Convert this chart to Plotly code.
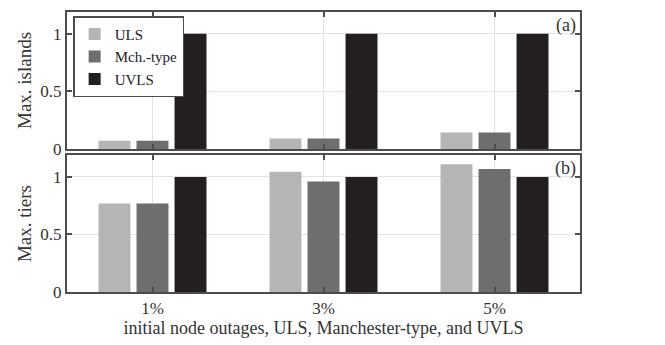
import plotly.graph_objects as go
from plotly.subplots import make_subplots

categories = ["1%", "3%", "5%"]
series_names = ["ULS", "Mch.-type", "UVLS"]
islands_uls = [0.071, 0.091, 0.143]
islands_mch = [0.071, 0.091, 0.143]
islands_uvls = [1.0, 1.0, 1.0]
tiers_uls = [0.77, 1.045, 1.11]
tiers_mch = [0.77, 0.96, 1.068]
tiers_uvls = [1.0, 1.0, 1.0]
colors = ["#b4b5b7", "#6e6e70", "#231f20"]
y_ticks = [0, 0.5, 1]
y_ticklabels = ["0", "0.5", "1"]

FONT = "Liberation Serif"

fig = make_subplots(rows=2, cols=1, shared_xaxes=False, vertical_spacing=0.022)

top = [islands_uls, islands_mch, islands_uvls]
bot = [tiers_uls, tiers_mch, tiers_uvls]
for i in range(3):
    fig.add_trace(go.Bar(x=categories, y=top[i], name=series_names[i],
                         marker=dict(color=colors[i], line=dict(width=0)),
                         showlegend=True), row=1, col=1)
for i in range(3):
    fig.add_trace(go.Bar(x=categories, y=bot[i], name=series_names[i],
                         marker=dict(color=colors[i], line=dict(width=0)),
                         showlegend=False), row=2, col=1)

axis_common = dict(showline=True, linecolor="#4d4d4d", linewidth=2, mirror="ticks",
                   ticks="inside", ticklen=5, tickcolor="#4d4d4d", tickwidth=1.5,
                   showgrid=True, gridcolor="#e3e3e3", gridwidth=1, zeroline=False,
                   tickfont=dict(family=FONT, size=17, color="#333"))

fig.update_xaxes(**axis_common)
fig.update_yaxes(**axis_common)
fig.update_yaxes(range=[0, 1.19], tickvals=y_ticks, ticktext=y_ticklabels)
fig.update_xaxes(showticklabels=False, row=1, col=1)
fig.update_xaxes(title=dict(text="initial node outages, ULS, Manchester-type, and UVLS",
                            font=dict(family=FONT, size=18, color="#333"), standoff=4),
                 row=2, col=1)
fig.update_yaxes(title=dict(text="Max. islands", font=dict(family=FONT, size=19, color="#333"),
                            standoff=4), row=1, col=1)
fig.update_yaxes(title=dict(text="Max. tiers", font=dict(family=FONT, size=19, color="#333"),
                            standoff=4), row=2, col=1)

fig.add_annotation(text="(a)", xref="x domain", yref="y domain", x=1, y=1,
                   xanchor="right", yanchor="top", showarrow=False, xshift=-2, yshift=-1,
                   font=dict(family=FONT, size=18, color="#333"))
fig.add_annotation(text="(b)", xref="x2 domain", yref="y2 domain", x=1, y=1,
                   xanchor="right", yanchor="top", showarrow=False, xshift=-2, yshift=-1,
                   font=dict(family=FONT, size=18, color="#333"))

fig.update_layout(
    width=665, height=345,
    margin=dict(l=67, r=85, t=10, b=51),
    paper_bgcolor="white", plot_bgcolor="white",
    barmode="group", bargap=0.333, bargroupgap=0.16,
    legend=dict(x=0.012, y=0.985, xanchor="left", yanchor="top",
                bgcolor="white", bordercolor="#4d4d4d", borderwidth=1.5,
                font=dict(family=FONT, size=15, color="#222"),
                tracegroupgap=0, itemwidth=30),
    font=dict(family=FONT),
)

fig.write_html("out.html")
